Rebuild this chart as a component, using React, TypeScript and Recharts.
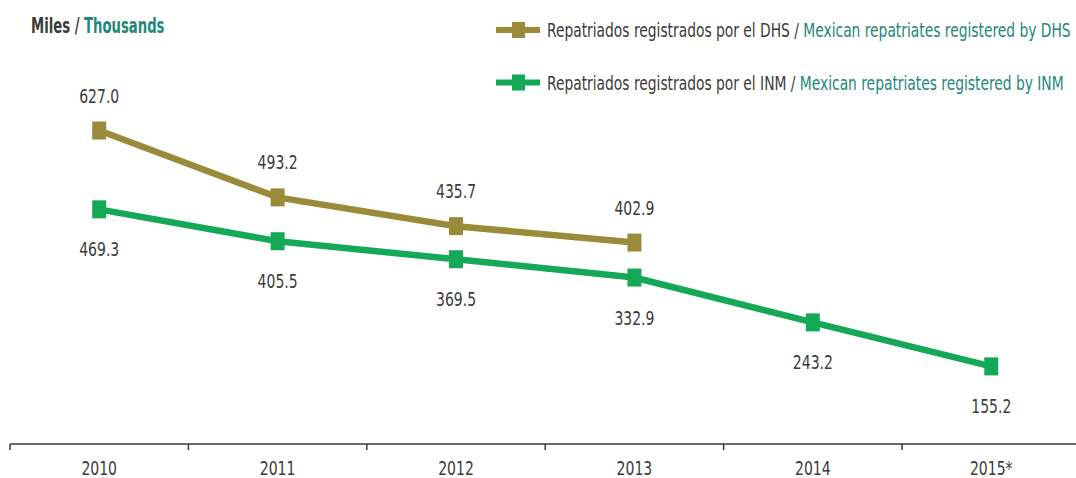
import { LineChart, Line, XAxis, YAxis, LabelList } from "recharts"

const years = ["2010", "2011", "2012", "2013", "2014", "2015*"]
const dhsValues = [627.0, 493.2, 435.7, 402.9, null, null]
const inmValues = [469.3, 405.5, 369.5, 332.9, 243.2, 155.2]

const DHS_COLOR = "#9a8a3a"
const INM_COLOR = "#15a957"
const TEAL = "#23887a"
const GRAY = "#3b3b3b"
const FONT = "'DejaVu Sans Condensed', 'DejaVu Sans', sans-serif"
// the reference is a narrow face, squeeze the glyphs horizontally
const SQUEEZE = 0.82

const W = 1076
const H = 478
const LEFT = 10
const X_MAX = 5.975
const BAND = (W - LEFT) / X_MAX

const data = years.map((year, i) => ({
	x: i + 0.5,
	year,
	dhs: dhsValues[i],
	inm: inmValues[i],
}))

function NarrowText({ x, y, anchor = "start", size = 19, weight = 400, squeeze = SQUEEZE, children }: any) {
	return (
		<text
			transform={`translate(${x} ${y}) scale(${squeeze} 1)`}
			textAnchor={anchor}
			fontSize={size}
			fontWeight={weight}
			fontFamily={FONT}
			fill={GRAY}
		>
			{children}
		</text>
	)
}

function SquareDot(props: any) {
	const { cx, cy, fill, value } = props
	if (cx == null || cy == null || value == null) return null
	return <rect x={cx - 7} y={cy - 9} width={14} height={18} fill={fill} />
}

function makeLabel(dy: number) {
	return function ValueLabel(props: any) {
		const { x, y, value } = props
		if (value == null) return null
		return (
			<NarrowText x={x} y={y + dy + 7} anchor="middle">
				{Number(value).toFixed(1)}
			</NarrowText>
		)
	}
}

function YearTick(props: any) {
	const { x, payload } = props
	const label = years[payload.value]
	if (!label) return null
	return (
		<NarrowText x={x + BAND / 2} y={475} anchor="middle">
			{label}
		</NarrowText>
	)
}

function LegendRow({ y, color, es, en }: { y: number; color: string; es: string; en: string }) {
	return (
		<g>
			<line x1={496} y1={y} x2={540} y2={y} stroke={color} strokeWidth={6} />
			<rect x={512} y={y - 8} width={13} height={16} fill={color} />
			<NarrowText x={547} y={y + 7} squeeze={0.81}>
				{es} / <tspan fill={TEAL}>{en}</tspan>
			</NarrowText>
		</g>
	)
}

export default function App() {
	return (
		<div style={{ position: "absolute", left: 0, top: 0, width: W, height: H, background: "#fff" }}>
			<LineChart
				width={W}
				height={H}
				data={data}
				margin={{ top: 44, right: 0, bottom: 0, left: LEFT }}
				style={{ position: "absolute", left: 0, top: 0 }}
			>
				<XAxis
					dataKey="x"
					type="number"
					domain={[0, X_MAX]}
					ticks={[0, 1, 2, 3, 4, 5]}
					allowDataOverflow
					height={34}
					interval={0}
					stroke="#3a3a3a"
					strokeWidth={1.5}
					tickSize={6}
					tick={<YearTick />}
				/>
				<YAxis hide domain={[0, 800]} />
				<Line
					dataKey="dhs"
					stroke={DHS_COLOR}
					strokeWidth={6.5}
					fill={DHS_COLOR}
					dot={<SquareDot />}
					activeDot={false}
					isAnimationActive={false}
				>
					<LabelList dataKey="dhs" content={makeLabel(-35)} />
				</Line>
				<Line
					dataKey="inm"
					stroke={INM_COLOR}
					strokeWidth={6.5}
					fill={INM_COLOR}
					dot={<SquareDot />}
					activeDot={false}
					isAnimationActive={false}
				>
					<LabelList dataKey="inm" content={makeLabel(40)} />
				</Line>
			</LineChart>

			<svg width={W} height={110} style={{ position: "absolute", left: 0, top: 0 }}>
				<NarrowText x={31} y={33} size={21} weight={700} squeeze={0.7}>
					Miles / <tspan fill={TEAL}>Thousands</tspan>
				</NarrowText>
				<LegendRow
					y={30}
					color={DHS_COLOR}
					es="Repatriados registrados por el DHS"
					en="Mexican repatriates registered by DHS"
				/>
				<LegendRow
					y={82.5}
					color={INM_COLOR}
					es="Repatriados registrados por el INM"
					en="Mexican repatriates registered by INM"
				/>
			</svg>
		</div>
	)
}
